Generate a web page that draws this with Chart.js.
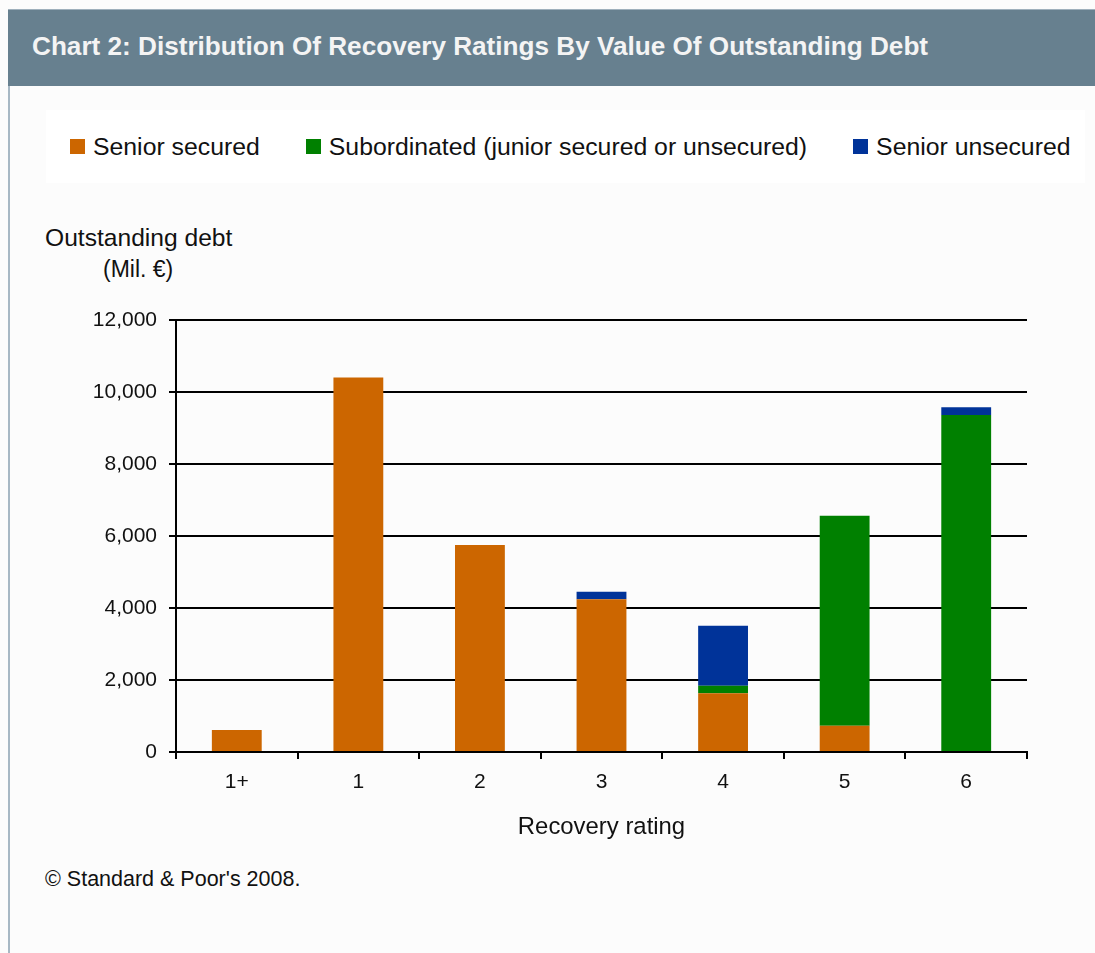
<!DOCTYPE html>
<html>
<head>
<meta charset="utf-8">
<script src="https://cdn.jsdelivr.net/npm/chart.js@4.4.1/dist/chart.umd.min.js"></script>
<style>
    html, body { margin: 0; padding: 0; }
    body {
        width: 1095px;
        height: 953px;
        position: relative;
        overflow: hidden;
        background: #fcfcfc;
        font-family: 'Liberation Sans', Arial, sans-serif;
        color: #111;
    }
    #panel {
        position: absolute;
        left: 8px; top: 9px;
        width: 1087px; height: 944px;
        border-left: 2px solid #a7b8c4;
        box-sizing: border-box;
    }
    #titleBar {
        position: absolute;
        left: 8px; top: 9px;
        width: 1087px; height: 77px;
        background: #67808f;
        border-top: 1px solid #9fb0bc;
        box-sizing: border-box;
    }
    #titleText {
        position: absolute;
        left: 24px; top: 22px;
        white-space: nowrap;
        font-weight: bold;
        font-size: 25px;
        color: #f4f4f4;
        transform-origin: left top;
    }
    #legendBox {
        position: absolute;
        left: 46px; top: 110px;
        width: 1039px; height: 73px;
        background: #ffffff;
    }
    #legend {
        position: absolute;
        left: 24px; top: 0;
        height: 73px;
        display: flex;
        align-items: center;
        gap: 46px;
        white-space: nowrap;
        font-size: 24.8px;
    }
    .item { display: flex; align-items: center; }
    .swatch { width: 15px; height: 15px; margin-right: 8px; }
    .txt { position: absolute; white-space: nowrap; }
    #chart { position: absolute; left: 0; top: 0; }
</style>
</head>
<body>
<div id="panel"></div>
<div id="titleBar"><span id="titleText">Chart 2: Distribution Of Recovery Ratings By Value Of Outstanding Debt</span></div>
<div id="legendBox"><div id="legend"></div></div>
<div class="txt" style="left:45px; top:224px; font-size:24.6px;">Outstanding debt</div>
<div class="txt" style="left:103px; top:256px; font-size:23px;">(Mil. €)</div>
<div class="txt" style="left:45px; top:867px; font-size:21.5px;">© Standard &amp; Poor's 2008.</div>
<canvas id="chart" width="1095" height="953"></canvas>

<script>
// === Data ===
const categories = ['1+', '1', '2', '3', '4', '5', '6'];
const seniorSecured = [610, 10400, 5750, 4240, 1630, 730, 0];
const subordinated = [0, 0, 0, 0, 210, 5835, 9360];
const seniorUnsecured = [0, 0, 0, 210, 1665, 0, 215];

const seriesNames = ['Senior secured', 'Subordinated (junior secured or unsecured)', 'Senior unsecured'];
const seriesColors = ['#cc6600', '#008000', '#003399'];

// === Title fit ===
const titleEl = document.getElementById('titleText');
titleEl.style.transform = 'scaleX(' + (896 / titleEl.offsetWidth) + ')';

// === Legend ===
const legend = document.getElementById('legend');
seriesNames.forEach((name, i) => {
    const item = document.createElement('div');
    item.className = 'item';
    item.innerHTML = `<span class="swatch" style="background:${seriesColors[i]}"></span><span>${name}</span>`;
    legend.appendChild(item);
});

// === Chart ===
const tickFont = { family: "'Liberation Sans', Arial, sans-serif", size: 21 };

new Chart(document.getElementById('chart').getContext('2d'), {
    type: 'bar',
    data: {
        labels: categories,
        datasets: [seniorSecured, subordinated, seniorUnsecured].map((values, i) => ({
            label: seriesNames[i],
            data: values,
            backgroundColor: seriesColors[i],
            borderWidth: 0,
            categoryPercentage: 1,
            barPercentage: 0.41
        }))
    },
    options: {
        responsive: false,
        animation: false,
        locale: 'en-US',
        layout: { padding: { left: 0, right: 68, top: 320, bottom: 101 } },
        plugins: {
            legend: { display: false },
            tooltip: { enabled: false }
        },
        scales: {
            x: {
                stacked: true,
                afterFit: (scale) => { scale.height = 100; },
                grid: {
                    offset: true,
                    drawOnChartArea: false,
                    drawTicks: true,
                    tickLength: 7,
                    color: '#000',
                    lineWidth: 2
                },
                border: { display: true, color: '#000', width: 2 },
                ticks: { color: '#111', font: tickFont, padding: 11, maxRotation: 0 },
                title: {
                    display: true,
                    text: 'Recovery rating',
                    color: '#111',
                    font: { family: "'Liberation Sans', Arial, sans-serif", size: 23.9 },
                    padding: { top: 0, bottom: 10 }
                }
            },
            y: {
                stacked: true,
                min: 0,
                max: 12000,
                afterFit: (scale) => { scale.width = 176; },
                grid: {
                    color: '#000',
                    lineWidth: 2,
                    drawTicks: true,
                    tickLength: 7
                },
                border: { display: true, color: '#000', width: 2 },
                ticks: { stepSize: 2000, color: '#111', font: tickFont, padding: 12 }
            }
        }
    }
});
</script>
</body>
</html>
